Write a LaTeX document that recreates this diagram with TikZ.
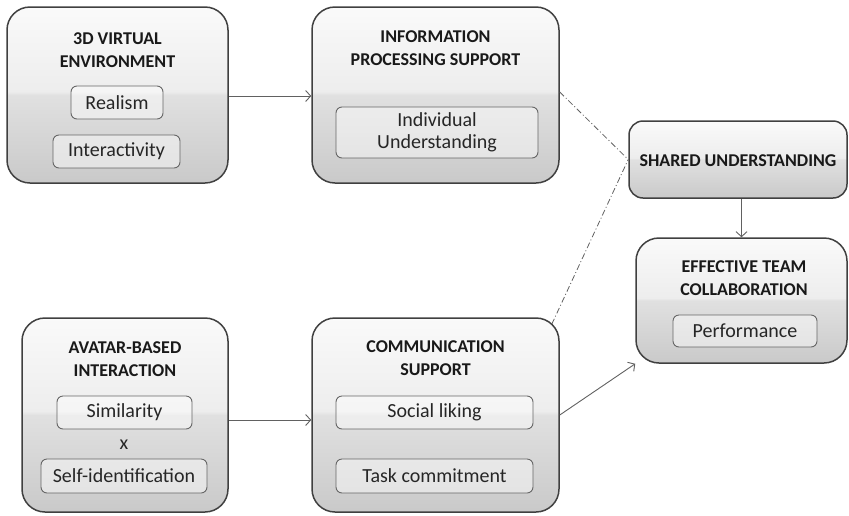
\documentclass[tikz,border=0pt]{standalone}
\usepackage{fontspec}
\setmainfont{Carlito}
\usetikzlibrary{arrows.meta}

\pgfdeclareverticalshading{glossy}{100bp}{color(0bp)=(black!21); color(25bp)=(black!21); color(50bp)=(black!12); color(51bp)=(black!7); color(75bp)=(white!98!black); color(100bp)=(white!98!black)}

\begin{document}
\begin{tikzpicture}[x=1pt,y=-1pt,
bignode/.style={rectangle, rounded corners=23pt, draw=black!75, line width=1.5pt, shading=glossy, inner sep=0pt},
smallnode/.style={rectangle, rounded corners=6pt, draw=black!60, line width=0.9pt, fill=white, fill opacity=0.45, text opacity=1, inner sep=0pt, font=\fontsize{20}{22}\selectfont, align=center, text=black!85},
titlenode/.style={font=\fontsize{18}{23}\selectfont\bfseries, align=center, text=black!90},
link/.style={draw=black!62, line width=0.9pt, -{Straight Barb[length=5pt,width=11pt]}},
share/.style={draw=black!62, line width=0.8pt, dash pattern=on 6pt off 2.5pt on 1pt off 2.5pt},
]
\useasboundingbox (0,0) rectangle (849,515);

%Boxes
\node[bignode, minimum width=221pt, minimum height=176pt] (envbox)    at (117.5,95)   {};
\node[bignode, minimum width=247pt, minimum height=176pt] (infobox)   at (435.5,95)   {};
\node[bignode, minimum width=206pt, minimum height=194pt] (avatarbox) at (125,415)    {};
\node[bignode, minimum width=247pt, minimum height=194pt] (commbox)   at (435.5,415)  {};
\node[bignode, minimum width=218pt, minimum height=77pt, rounded corners=14pt] (sharedbox) at (738,159.5)  {};
\node[bignode, minimum width=211pt, minimum height=125pt] (teambox)   at (741.5,300.5) {};

%Titles
\node[titlenode] (envtitle)    at (117.5,50.5) {3D VIRTUAL\\ENVIRONMENT};
\node[titlenode] (infotitle)   at (435.5,48.5) {INFORMATION\\PROCESSING SUPPORT};
\node[titlenode] (avatartitle) at (125,359)    {AVATAR-BASED\\INTERACTION};
\node[titlenode] (commtitle)   at (435.5,358.5) {COMMUNICATION\\SUPPORT};
\node[titlenode] (sharedtitle) at (738,161)    {SHARED UNDERSTANDING};
\node[titlenode] (teamtitle)   at (744,278.5)  {EFFECTIVE TEAM\\COLLABORATION};

%Factors
\node[smallnode, minimum width=92pt,  minimum height=33pt] (realism)  at (117,102.5)  {Realism};
\node[smallnode, minimum width=127pt, minimum height=33pt] (interact) at (116.5,151.5) {Interactivity};
\node[smallnode, minimum width=202pt, minimum height=51pt] (indiv)    at (437,132.5)  {Individual\\Understanding};
\node[smallnode, minimum width=135pt, minimum height=33pt] (similar)  at (124.5,412.5) {Similarity};
\node[font=\fontsize{20}{22}\selectfont, text=black!85] (times) at (124,445) {x};
\node[smallnode, minimum width=166pt, minimum height=34pt] (selfid)   at (124,476)    {Self-identification};
\node[smallnode, minimum width=197pt, minimum height=33pt] (liking)   at (434.5,412.5) {Social liking};
\node[smallnode, minimum width=197pt, minimum height=34pt] (commit)   at (434.5,476)  {Task commitment};
\node[smallnode, minimum width=144pt, minimum height=32pt] (perform)  at (745,331)    {Performance};

%Lines
\draw[link] ([yshift=-1pt]envbox.east) -- ([yshift=-1pt]infobox.west);
\draw[link] ([yshift=-5pt]avatarbox.east) -- ([yshift=-5pt]commbox.west);
\draw[link] (teambox.north |- sharedbox.south) -- (teambox.north);
\draw[link] (commbox.east) -- (teambox.south west);
\draw[share] ([yshift=3pt]infobox.east) -- (sharedbox.west);
\draw[share] ([shift={(-8pt,-7pt)}]commbox.north east) -- (sharedbox.west);

\end{tikzpicture}
\end{document}
